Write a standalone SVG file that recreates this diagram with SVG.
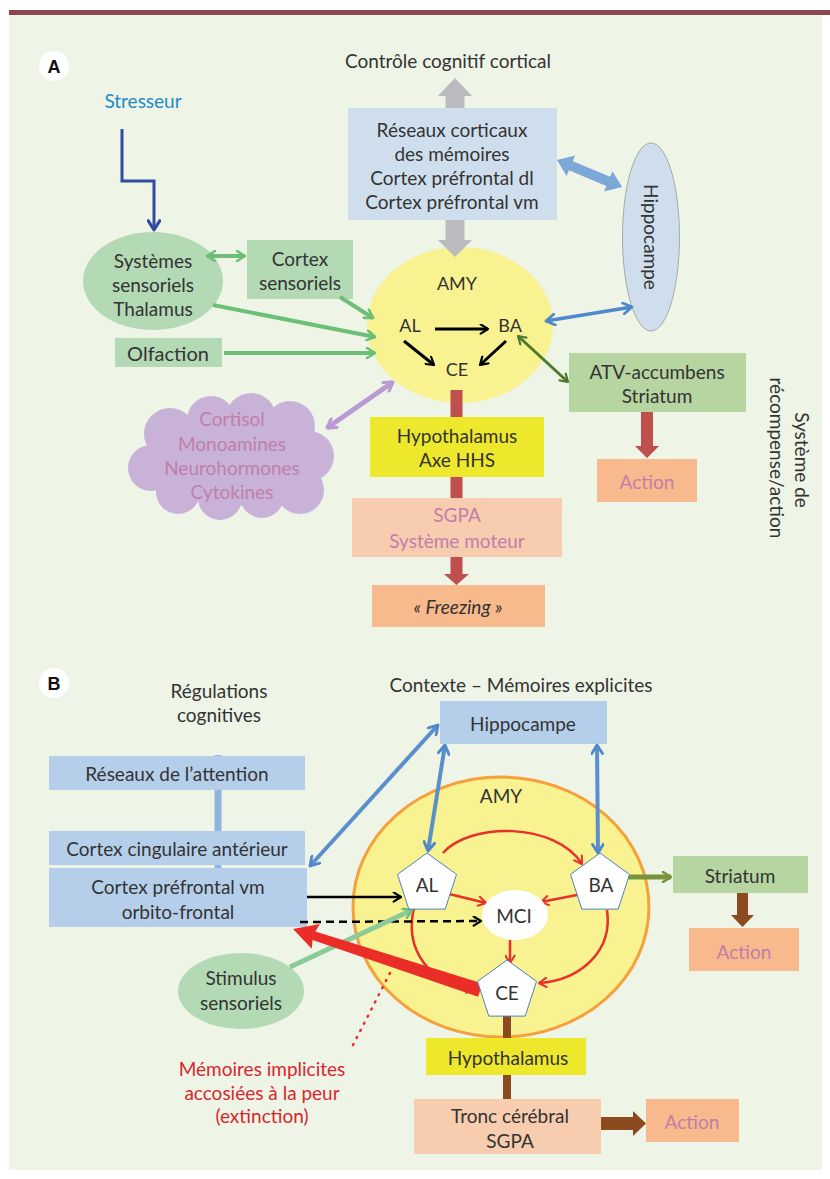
<svg xmlns="http://www.w3.org/2000/svg" width="830" height="1179" viewBox="0 0 830 1179">
<defs>
<style>
text{font-family:Lato,"Open Sans","Liberation Sans",sans-serif;fill:#333;text-anchor:middle;dominant-baseline:central}
.t18{font-size:19px}
.t17{font-size:18px}
.mauve{fill:#C07FAA}
.lbl{font-family:"Liberation Sans",Arial,sans-serif;font-weight:bold;font-size:18px;fill:#111}
.bluebox{fill:#B5CFEA}
.greenbox{fill:#B3DAB5}
</style>
<marker id="mG" viewBox="0 0 12 12" refX="10" refY="6" markerWidth="12" markerHeight="12" markerUnits="userSpaceOnUse" orient="auto-start-reverse"><path d="M2,1 L10,6 L2,11" fill="none" stroke="#6DBF78" stroke-width="2.6" stroke-linecap="round" stroke-linejoin="round"/></marker>
<marker id="mB" viewBox="0 0 12 12" refX="10" refY="6" markerWidth="13" markerHeight="13" markerUnits="userSpaceOnUse" orient="auto-start-reverse"><path d="M2,1 L10,6 L2,11" fill="none" stroke="#4F88CC" stroke-width="2.6" stroke-linecap="round" stroke-linejoin="round"/></marker>
<marker id="mK" viewBox="0 0 12 12" refX="10" refY="6" markerWidth="11" markerHeight="11" markerUnits="userSpaceOnUse" orient="auto-start-reverse"><path d="M2,1 L10,6 L2,11" fill="none" stroke="#000" stroke-width="2.4" stroke-linecap="round" stroke-linejoin="round"/></marker>
<marker id="mR" viewBox="0 0 12 12" refX="10" refY="6" markerWidth="11" markerHeight="11" markerUnits="userSpaceOnUse" orient="auto-start-reverse"><path d="M2,1 L10,6 L2,11" fill="none" stroke="#E8312A" stroke-width="2.2" stroke-linecap="round" stroke-linejoin="round"/></marker>
<marker id="mP" viewBox="0 0 12 12" refX="10" refY="6" markerWidth="13" markerHeight="13" markerUnits="userSpaceOnUse" orient="auto-start-reverse"><path d="M2,1 L10,6 L2,11" fill="none" stroke="#B99AD3" stroke-width="2.8" stroke-linecap="round" stroke-linejoin="round"/></marker>
<marker id="mD" viewBox="0 0 12 12" refX="10" refY="6" markerWidth="11" markerHeight="11" markerUnits="userSpaceOnUse" orient="auto-start-reverse"><path d="M2,1 L10,6 L2,11" fill="none" stroke="#4E7A2E" stroke-width="2.4" stroke-linecap="round" stroke-linejoin="round"/></marker>
<marker id="mO" viewBox="0 0 12 12" refX="10" refY="6" markerWidth="12" markerHeight="12" markerUnits="userSpaceOnUse" orient="auto-start-reverse"><path d="M2,1 L10,6 L2,11" fill="none" stroke="#77933C" stroke-width="2.6" stroke-linecap="round" stroke-linejoin="round"/></marker>
<marker id="mS" viewBox="0 0 12 12" refX="10" refY="6" markerWidth="14" markerHeight="14" markerUnits="userSpaceOnUse" orient="auto-start-reverse"><path d="M2,1 L10,6 L2,11" fill="none" stroke="#2F4C9F" stroke-width="2.6" stroke-linecap="round" stroke-linejoin="round"/></marker>
</defs>

<rect x="0" y="0" width="830" height="1179" fill="#fff"/>
<rect x="9" y="14" width="813" height="1156" fill="#EEF4E6"/>
<rect x="9" y="10" width="821" height="5" fill="#8E4650"/>

<!-- Panel A labels -->
<g id="labelA"><circle cx="54" cy="66" r="15" fill="#fff"/><text x="54" y="67" class="lbl">A</text></g>
<g id="controle"><text x="448" y="60" class="t18">Contrôle cognitif cortical</text></g>
<g id="stresseur"><text x="143" y="100" class="t18" style="fill:#1E8BC9">Stresseur</text></g>

<!-- Panel A nodes -->
<g id="amyA"><ellipse cx="460" cy="325" rx="93" ry="78" fill="#F8F290"/>
<text x="457" y="283" class="t17">AMY</text>
<text x="410" y="325" class="t17">AL</text>
<text x="510" y="325" class="t17">BA</text>
<text x="457" y="369" class="t17">CE</text></g>

<g id="reseaux"><rect x="348" y="108" width="209" height="112" fill="#CFDEEC"/>
<text x="452" y="129" class="t18">Réseaux corticaux</text>
<text x="452" y="153" class="t18">des mémoires</text>
<text x="452" y="177" class="t18">Cortex préfrontal dl</text>
<text x="452" y="201" class="t18">Cortex préfrontal vm</text></g>

<g id="hippoA"><ellipse cx="651" cy="237" rx="28.5" ry="94" fill="#CFDEEC" stroke="#A9A9A9" stroke-width="1"/>
<text x="651" y="237" class="t18" transform="rotate(90 651 237)">Hippocampe</text></g>

<g id="systemes"><ellipse cx="153" cy="281" rx="70" ry="49" fill="#B3DAB5"/>
<text x="153" y="260" class="t18">Systèmes</text>
<text x="153" y="284" class="t18">sensoriels</text>
<text x="153" y="308" class="t18">Thalamus</text></g>

<g id="cortexsens"><rect x="247" y="240" width="106" height="59" class="greenbox"/>
<text x="300" y="258" class="t18">Cortex</text>
<text x="300" y="282" class="t18">sensoriels</text></g>

<g id="olfaction"><rect x="115" y="338" width="107" height="29" class="greenbox"/>
<text x="168" y="353" style="font-size:20px">Olfaction</text></g>

<g id="cloud" fill="#C8B2D8">
<ellipse cx="232" cy="458" rx="85" ry="48"/>
<circle cx="170" cy="434" r="26"/><circle cx="211" cy="420" r="24"/><circle cx="251" cy="418" r="25"/>
<circle cx="290" cy="426" r="25"/><circle cx="309" cy="456" r="25"/><circle cx="300" cy="490" r="24"/>
<circle cx="262" cy="496" r="22"/><circle cx="220" cy="498" r="22"/><circle cx="178" cy="492" r="22"/>
<circle cx="151" cy="468" r="23"/>
<text x="232" y="418" class="t18 mauve">Cortisol</text>
<text x="232" y="443" class="t18 mauve">Monoamines</text>
<text x="232" y="467" class="t18 mauve">Neurohormones</text>
<text x="232" y="491" class="t18 mauve">Cytokines</text></g>

<g id="atv"><rect x="569" y="353" width="177" height="59" fill="#B6D5A0"/>
<text x="657" y="371" class="t18">ATV-accumbens</text>
<text x="657" y="395" class="t18">Striatum</text></g>

<g id="systeme-recompense">
<text x="802" y="460" class="t18" transform="rotate(90 802 460)">Système de</text>
<text x="777" y="458" class="t18" transform="rotate(90 777 458)">récompense/action</text></g>

<!-- Panel A connectors -->
<g id="connectorsA">
<polygon points="455,78 472,96 464.5,96 464.5,108 445.5,108 445.5,96 438,96" fill="#B9BBBE"/>
<polygon points="445.5,220 464.5,220 464.5,240 472,240 455,257 438,240 445.5,240" fill="#B9BBBE"/>
<g transform="translate(557,160) rotate(22.56)"><polygon points="0,0 15,-11 15,-5 55.5,-5 55.5,-11 70.5,0 55.5,11 55.5,5 15,5 15,11" fill="#7BA8D8"/></g>
<path d="M122,129 V181 H154 V230" fill="none" stroke="#2F4C9F" stroke-width="3" marker-end="url(#mS)"/>
<line x1="207" y1="256" x2="245" y2="256" stroke="#6DBF78" stroke-width="4" marker-start="url(#mG)" marker-end="url(#mG)"/>
<line x1="340" y1="297" x2="373" y2="318" stroke="#6DBF78" stroke-width="4" marker-end="url(#mG)"/>
<line x1="213" y1="305" x2="375" y2="337" stroke="#6DBF78" stroke-width="4" marker-end="url(#mG)"/>
<line x1="224" y1="353" x2="375" y2="353" stroke="#6DBF78" stroke-width="4" marker-end="url(#mG)"/>
<line x1="327" y1="428" x2="393" y2="382" stroke="#B99AD3" stroke-width="5" marker-start="url(#mP)" marker-end="url(#mP)"/>
<line x1="546" y1="321" x2="632" y2="307" stroke="#4F88CC" stroke-width="3.5" marker-start="url(#mB)" marker-end="url(#mB)"/>
<line x1="518" y1="336" x2="568" y2="382" stroke="#4E7A2E" stroke-width="3" marker-start="url(#mD)" marker-end="url(#mD)"/>
<line x1="435" y1="329" x2="488" y2="329" stroke="#000" stroke-width="3" marker-end="url(#mK)"/>
<line x1="404" y1="341" x2="434" y2="365" stroke="#000" stroke-width="3" marker-end="url(#mK)"/>
<line x1="506" y1="341" x2="480" y2="365" stroke="#000" stroke-width="3" marker-end="url(#mK)"/>
<polygon points="450.5,390 462.5,390 462.5,574 469,574 456.5,585 444,574 450.5,574" fill="#C0504D"/>
<polygon points="641,412 653,412 653,446 659,446 647,458 635,446 641,446" fill="#C0504D"/>
</g>

<g id="hypoA"><rect x="370" y="417" width="174" height="60" fill="#EDE82C"/>
<text x="457" y="435" class="t18">Hypothalamus</text>
<text x="457" y="459" class="t18">Axe HHS</text></g>

<g id="sgpaA"><rect x="352" y="498" width="210" height="59" fill="#F8CCAE"/>
<text x="457" y="514" class="t18 mauve">SGPA</text>
<text x="457" y="540" class="t18 mauve">Système moteur</text></g>

<g id="freezing"><rect x="372" y="585" width="173" height="42" fill="#F8B98C"/>
<text x="458" y="606" class="t18" style="font-style:italic">« Freezing »</text></g>

<g id="actionA"><rect x="597" y="459" width="100" height="43" fill="#F8B98C"/>
<text x="647" y="481" class="t18 mauve">Action</text></g>

<!-- Panel B -->
<g id="labelB"><circle cx="54" cy="683" r="15" fill="#fff"/><text x="54" y="684" class="lbl">B</text></g>
<g id="regulations"><text x="219" y="690" class="t18">Régulations</text><text x="219" y="714" class="t18">cognitives</text></g>
<g id="contexte"><text x="521" y="684" class="t18">Contexte – Mémoires explicites</text></g>

<rect x="214.5" y="755" width="7" height="115" fill="#8EB5E0"/>

<g id="reseauxattention"><rect x="49" y="756" width="256" height="34" class="bluebox"/>
<text x="177" y="773" class="t18">Réseaux de l’attention</text></g>
<g id="cingulaire"><rect x="49" y="831" width="256" height="34" class="bluebox"/>
<text x="177" y="848" class="t18">Cortex cingulaire antérieur</text></g>
<g id="prefrontal"><rect x="49" y="868" width="258" height="59" class="bluebox"/>
<text x="178" y="886" class="t18">Cortex préfrontal vm</text>
<text x="178" y="911" class="t18">orbito-frontal</text></g>

<g id="hippoB"><rect x="440" y="701" width="167" height="43" class="bluebox"/>
<text x="523" y="723" class="t18">Hippocampe</text></g>

<g id="amyB"><ellipse cx="501" cy="907" rx="148" ry="130" fill="#F8F291" stroke="#F5A03A" stroke-width="3"/>
<text x="501" y="795" class="t18">AMY</text></g>

<g id="stimulus"><ellipse cx="241" cy="991" rx="63" ry="38" fill="#B3DAB5"/>
<text x="241" y="977" class="t18">Stimulus</text>
<text x="241" y="1002" class="t18">sensoriels</text></g>

<g id="striatum"><rect x="673" y="856" width="135" height="37" fill="#B6D5A0"/>
<text x="740" y="875" class="t18">Striatum</text></g>

<g id="connectorsB">
<line x1="438" y1="725" x2="310" y2="866" stroke="#5A8FCE" stroke-width="4" marker-start="url(#mB)" marker-end="url(#mB)"/>
<line x1="445" y1="745" x2="428" y2="851" stroke="#5A8FCE" stroke-width="4" marker-start="url(#mB)" marker-end="url(#mB)"/>
<line x1="597" y1="745" x2="598" y2="853" stroke="#5A8FCE" stroke-width="4" marker-start="url(#mB)" marker-end="url(#mB)"/>
<path d="M443,853 C470,822 555,822 582,864" fill="none" stroke="#E8312A" stroke-width="2.5" marker-end="url(#mR)"/>
<path d="M414,908 C404,950 430,985 474,989" fill="none" stroke="#E8312A" stroke-width="2.5" marker-end="url(#mR)"/>
<path d="M607,910 C613,950 582,980 539,983" fill="none" stroke="#E8312A" stroke-width="2.5" marker-end="url(#mR)"/>
<line x1="445" y1="893" x2="486" y2="903" stroke="#E8312A" stroke-width="2.5" marker-end="url(#mR)"/>
<line x1="582" y1="894" x2="541" y2="902" stroke="#E8312A" stroke-width="2.5" marker-end="url(#mR)"/>
<line x1="510" y1="940" x2="510" y2="963" stroke="#E8312A" stroke-width="2.5" marker-end="url(#mR)"/>
<line x1="307" y1="897" x2="401" y2="897" stroke="#000" stroke-width="2.5" marker-end="url(#mK)"/>
<line x1="300" y1="922" x2="481" y2="921" stroke="#000" stroke-width="2.5" stroke-dasharray="8,5" marker-end="url(#mK)"/>
<line x1="290" y1="967" x2="412" y2="910" stroke="#8CCB99" stroke-width="5" marker-end="url(#mG)"/>
<g transform="translate(293,929) rotate(18.07)"><polygon points="0,0 24,-13 22,-4.5 197,-7 197,7 22,4.5 24,13" fill="#EA2D27"/></g>
<line x1="390" y1="973" x2="352" y2="1047" stroke="#E8312A" stroke-width="2.5" stroke-dasharray="1,7" stroke-linecap="round"/>
<rect x="503" y="1015" width="8" height="85" fill="#8C4A1F"/>
<line x1="628" y1="877" x2="671" y2="877" stroke="#77933C" stroke-width="5" marker-end="url(#mO)"/>
<polygon points="737,893 748,893 748,915 754,915 742.5,927 731,915 737,915" fill="#8C4A1F"/>
<polygon points="601,1117 633,1117 633,1111 646,1123.5 633,1136 633,1130 601,1130" fill="#8C4A1F"/>
</g>

<g id="AL"><polygon points="427,853 456.5,874.4 445.2,909.1 408.8,909.1 397.5,874.4" fill="#fff" stroke="#4F81BD" stroke-width="1"/>
<text x="427" y="884" class="t18">AL</text></g>
<g id="BA"><polygon points="600,853 629.5,874.4 618.2,909.1 581.8,909.1 570.5,874.4" fill="#fff" stroke="#4F81BD" stroke-width="1"/>
<text x="601" y="884" class="t18">BA</text></g>
<g id="MCI"><ellipse cx="515" cy="915" rx="33" ry="25" fill="#fff"/>
<text x="514" y="915" class="t18">MCI</text></g>
<g id="CE"><polygon points="507,960 536.5,981.4 525.2,1016.1 488.8,1016.1 477.5,981.4" fill="#fff" stroke="#4F81BD" stroke-width="1"/>
<text x="507" y="992" class="t18">CE</text></g>

<g id="hypoB"><rect x="426" y="1038" width="160" height="37" fill="#EDE82C"/>
<text x="508" y="1057" class="t18">Hypothalamus</text></g>
<g id="tronc"><rect x="414" y="1099" width="187" height="55" fill="#F8CCAE"/>
<text x="510" y="1115" class="t18">Tronc cérébral</text>
<text x="510" y="1140" class="t18">SGPA</text></g>
<g id="actionB1"><rect x="689" y="928" width="110" height="43" fill="#F8B98C"/>
<text x="744" y="951" class="t18 mauve">Action</text></g>
<g id="actionB2"><rect x="646" y="1099" width="93" height="43" fill="#F8B98C"/>
<text x="692" y="1121" class="t18 mauve">Action</text></g>

<g id="memoires"><text x="262" y="1068" class="t18" style="fill:#D8262E">Mémoires implicites</text>
<text x="262" y="1092" class="t18" style="fill:#D8262E">accosiées à la peur</text>
<text x="262" y="1115" class="t18" style="fill:#D8262E">(extinction)</text></g>
</svg>
